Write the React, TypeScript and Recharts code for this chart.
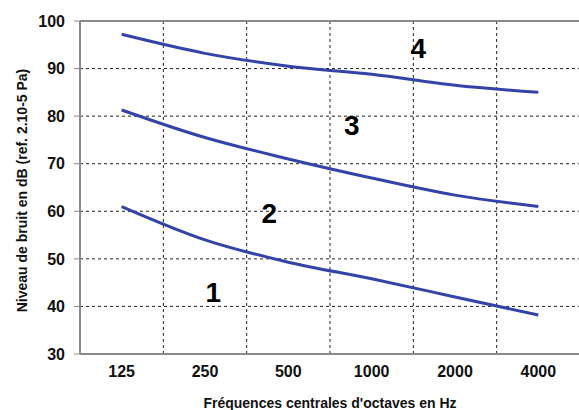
import React from 'react'
import {
    CartesianGrid,
    Line,
    LineChart,
    ReferenceDot,
    ReferenceLine,
    XAxis,
    YAxis,
} from 'recharts'

// bandes d'octaves (Hz)
const frequencies = ['125', '250', '500', '1000', '2000', '4000']

// courbes limites entre les zones 1-2, 2-3 et 3-4 (dB)
const curve12 = [61, 54, 49.3, 45.8, 42, 38.2]
const curve23 = [81.3, 75.5, 71, 67, 63.4, 61]
const curve34 = [97.2, 93.2, 90.5, 88.8, 86.5, 85]

const yTicks = [30, 40, 50, 60, 70, 80, 90, 100]

// séparations entre bandes, en unités de bande
const bandBoundaries = [1, 2, 3, 4, 5]

// numéros de zones
const zoneLabels = ['1', '2', '3', '4']
const zoneX = [1.6, 2.27, 3.26, 4.06]
const zoneY = [43, 59.6, 78.1, 94.3]

const lineColor = '#3343a8'
const axisColor = '#8a8a8a'
const font = '"Liberation Sans", Arial, sans-serif'

const data = frequencies.map((freq, i) => ({
    freq,
    pos: i + 0.5,
    c12: curve12[i],
    c23: curve23[i],
    c34: curve34[i],
}))

export default function App() {
    return (
        <div style={{position: 'absolute', left: 0, top: 0, width: 579, height: 410, background: '#fff', overflow: 'hidden'}}>
            <LineChart width={580} height={410} data={data} margin={{top: 21, right: 0, bottom: 0, left: 0}}>
                <CartesianGrid
                    xAxisId="band"
                    stroke="#222"
                    strokeDasharray="3 3"
                />
                <XAxis
                    xAxisId="band"
                    dataKey="pos"
                    type="number"
                    domain={[0, 6]}
                    allowDataOverflow
                    ticks={bandBoundaries}
                    height={0}
                    axisLine={false}
                    tickLine={{stroke: '#333'}}
                    tickSize={6}
                    tickFormatter={() => ''}
                />
                <XAxis
                    xAxisId="cat"
                    dataKey="freq"
                    scale="band"
                    height={56}
                    axisLine={{stroke: axisColor, strokeWidth: 2}}
                    tickLine={false}
                    tickMargin={6}
                    tick={{fill: '#111', fontSize: 16, fontWeight: 'bold', fontFamily: font}}
                    label={{
                        value: "Fréquences centrales d'octaves en Hz",
                        position: 'insideBottom',
                        offset: 2,
                        style: {fill: '#111', fontSize: 14, fontWeight: 'bold', fontFamily: font},
                    }}
                />
                <YAxis
                    domain={[30, 100]}
                    ticks={yTicks}
                    width={80}
                    axisLine={{stroke: axisColor, strokeWidth: 2}}
                    tickLine={{stroke: axisColor}}
                    tickSize={6}
                    tickMargin={9}
                    tick={{fill: '#111', fontSize: 16, fontWeight: 'bold', fontFamily: font}}
                    label={{
                        value: 'Niveau de bruit en dB (ref. 2.10-5 Pa)',
                        angle: -90,
                        position: 'center',
                        dx: -18,
                        dy: 3,
                        style: {fill: '#111', fontSize: 14, fontWeight: 'bold', fontFamily: font},
                    }}
                />
                <ReferenceLine y={100} xAxisId="cat" stroke={axisColor} strokeWidth={2}/>
                <Line xAxisId="cat" type="monotone" dataKey="c12" stroke={lineColor} strokeWidth={3} dot={false} isAnimationActive={false}/>
                <Line xAxisId="cat" type="monotone" dataKey="c23" stroke={lineColor} strokeWidth={3} dot={false} isAnimationActive={false}/>
                <Line xAxisId="cat" type="monotone" dataKey="c34" stroke={lineColor} strokeWidth={3} dot={false} isAnimationActive={false}/>
                {zoneLabels.map((lbl, i) => (
                    <ReferenceDot
                        key={lbl}
                        xAxisId="band"
                        x={zoneX[i]}
                        y={zoneY[i]}
                        r={1}
                        fill="none"
                        stroke="none"
                        label={{
                            value: lbl,
                            position: 'center',
                            style: {fill: '#000', fontSize: 28, fontWeight: 'bold', fontFamily: font},
                        }}
                    />
                ))}
            </LineChart>
        </div>
    )
}
